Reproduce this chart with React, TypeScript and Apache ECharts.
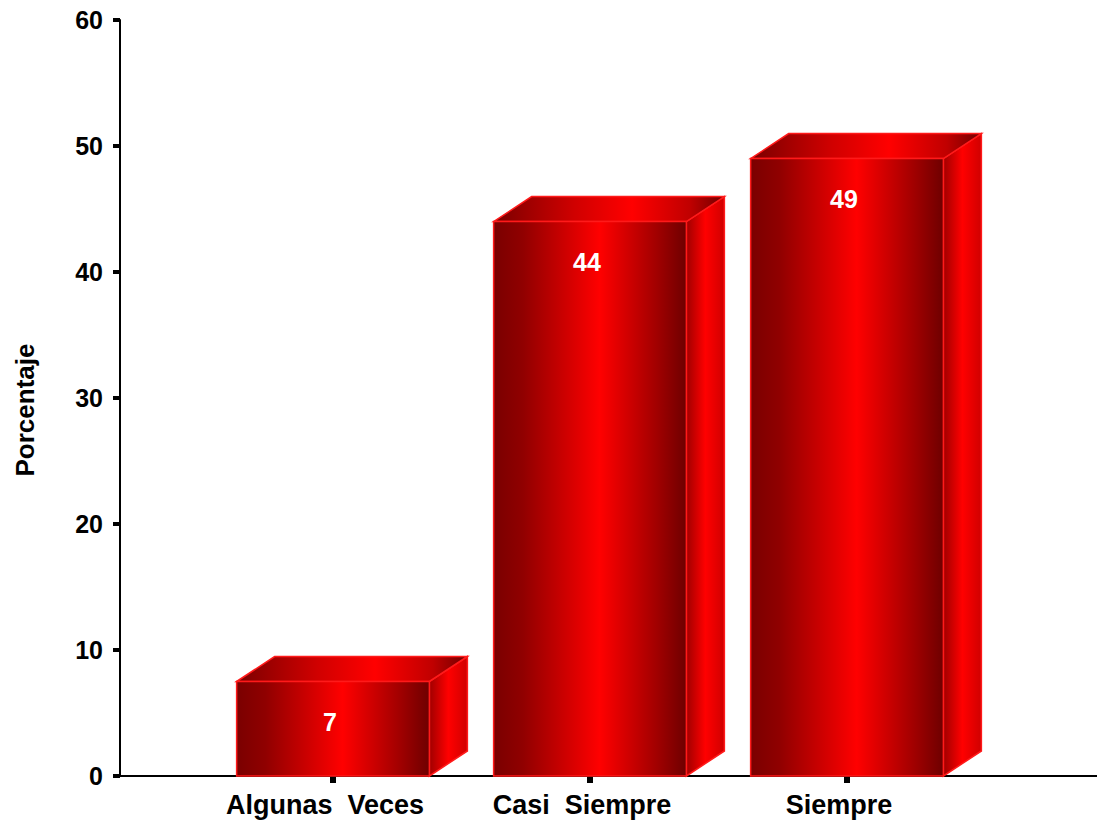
import React, { useEffect, useRef } from "react";
import * as echarts from "echarts";

const categories = ["Algunas  Veces", "Casi  Siempre", "Siempre"];
const values = [7.5, 44, 49];
const valueLabels = ["7", "44", "49"];
const yTicks = { min: 0, max: 60, interval: 10 };

const FONT = "'Liberation Sans', Arial, sans-serif";

export default function App() {
  const ref = useRef<HTMLDivElement>(null);
  useEffect(() => {
    if (!ref.current) return;
    const chart = echarts.init(ref.current, null, { renderer: "svg" });
    const front = {
      type: "linear", x: 0, y: 0, x2: 1, y2: 0,
      colorStops: [
        { offset: 0, color: "#7a0000" },
        { offset: 0.15, color: "#900000" },
        { offset: 0.55, color: "#ff0000" },
        { offset: 0.85, color: "#a00000" },
        { offset: 1, color: "#6e0000" },
      ],
    };
    const top = {
      type: "linear", x: 0, y: 0, x2: 1, y2: 0,
      colorStops: [
        { offset: 0, color: "#7a0000" },
        { offset: 0.35, color: "#d00000" },
        { offset: 0.6, color: "#ff0000" },
        { offset: 0.85, color: "#c00000" },
        { offset: 1, color: "#700000" },
      ],
    };
    const side = {
      type: "linear", x: 0, y: 0, x2: 1, y2: 0,
      colorStops: [
        { offset: 0, color: "#a00000" },
        { offset: 0.5, color: "#ff0000" },
        { offset: 1, color: "#d00000" },
      ],
    };
    const DX = 38;
    const DY = 25;
    chart.setOption({
      animation: false,
      grid: [
        { left: 120, right: 0, top: 20, bottom: 48 },
        { left: 204.5, width: 771, top: 20, bottom: 48 },
      ],
      xAxis: [
        {
          type: "value", gridIndex: 0, min: 0, max: 1,
          axisLine: { show: true, lineStyle: { color: "#000", width: 2 } },
          axisTick: { show: false }, axisLabel: { show: false }, splitLine: { show: false },
        },
        {
          type: "category", gridIndex: 1, data: categories, boundaryGap: true,
          axisLine: { show: false },
          axisTick: { show: true, interval: 0, alignWithLabel: true, length: 7, lineStyle: { color: "#000", width: 6 } },
          axisLabel: {
            interval: 0, hideOverlap: false,
            color: "#000", fontWeight: "bold", fontSize: 27, fontFamily: FONT,
            margin: 15, padding: [0, 16, 0, 0],
          },
        },
      ],
      yAxis: [
        {
          type: "value", gridIndex: 0, ...yTicks,
          axisLine: { show: true, lineStyle: { color: "#000", width: 2 } },
          axisTick: { show: true, length: 7, lineStyle: { color: "#000", width: 4 } },
          axisLabel: { color: "#000", fontWeight: "bold", fontSize: 25, fontFamily: FONT, margin: 17 },
          splitLine: { show: false },
        },
        {
          type: "value", gridIndex: 1, ...yTicks, show: false,
        },
      ],
      graphic: [
        {
          type: "text", x: 25, y: 410, rotation: Math.PI / 2,
          style: {
            text: "Porcentaje", fill: "#000", font: `bold 26px ${FONT}`,
            align: "center", verticalAlign: "middle",
          },
        },
      ],
      series: [
        {
          type: "custom",
          xAxisIndex: 1,
          yAxisIndex: 1,
          data: values.map((v, i) => [i, v]),
          renderItem: (params: any, api: any) => {
            const idx = api.value(0);
            const val = api.value(1);
            const pTop = api.coord([idx, val]);
            const pBot = api.coord([idx, 0]);
            const band = api.size([1, 0])[0];
            const w = band * 0.75;
            const xl = pTop[0] - w / 2;
            const xr = pTop[0] + w / 2;
            const yt = pTop[1];
            const yb = pBot[1];
            const border = { stroke: "#ff1a1a", lineWidth: 1.5 };
            return {
              type: "group",
              children: [
                {
                  type: "polygon",
                  shape: { points: [[xr, yt], [xr + DX, yt - DY], [xr + DX, yb - DY], [xr, yb]] },
                  style: { fill: side, ...border },
                },
                {
                  type: "polygon",
                  shape: { points: [[xl, yt], [xl + DX, yt - DY], [xr + DX, yt - DY], [xr, yt]] },
                  style: { fill: top, ...border },
                },
                {
                  type: "rect",
                  shape: { x: xl, y: yt, width: w, height: yb - yt },
                  style: { fill: front, ...border },
                },
                {
                  type: "text",
                  style: {
                    text: valueLabels[params.dataIndex], x: pTop[0] - 3, y: yt + 40,
                    fill: "#fff", font: `bold 25px ${FONT}`,
                    align: "center", verticalAlign: "middle",
                  },
                },
              ],
            };
          },
        },
      ],
    });
    return () => chart.dispose();
  }, []);
  return (
    <div
      ref={ref}
      style={{ position: "fixed", left: 0, top: 0, width: 1097, height: 824, background: "#fff" }}
    />
  );
}
